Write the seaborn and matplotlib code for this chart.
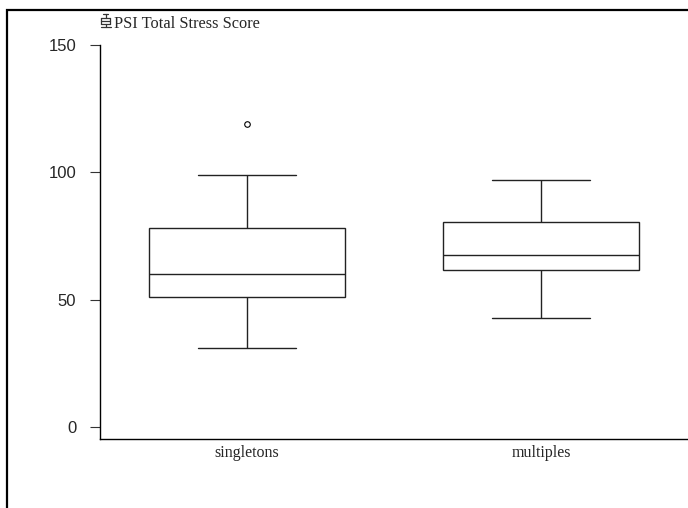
import numpy as np
import pandas as pd
import matplotlib
matplotlib.use("Agg")
import matplotlib.pyplot as plt
import seaborn as sns
from matplotlib.lines import Line2D
from matplotlib.patches import Rectangle

# Values
singletons = [31, 45, 51, 55, 60, 70, 78, 99, 119]
multiples = [43, 55, 61.5, 64, 67.5, 75, 80.5, 90, 97]
groups = ["singletons", "multiples"]
series_label = "PSI Total Stress Score"
y_ticks = [0, 50, 100, 150]

df = pd.DataFrame({
    "group": ["singletons"] * len(singletons) + ["multiples"] * len(multiples),
    "score": singletons + multiples,
})

sns.set_style("white")
plt.rcParams["font.family"] = ["Liberation Sans", "DejaVu Sans"]

W, H = 688, 508
fig = plt.figure(figsize=(W / 100, H / 100), dpi=100)
ax = fig.add_axes([100 / W, (H - 439) / H, (688 - 100) / W, (439 - 45) / H])

sns.boxplot(
    data=df, x="group", y="score", order=groups, ax=ax,
    width=0.667, color="white", linecolor="#222222", linewidth=1.0,
    flierprops=dict(marker="o", markersize=4, markerfacecolor="none",
                    markeredgecolor="black", markeredgewidth=0.8),
)

ax.set_xlim(-0.5, 1.5)
ax.set_ylim(-4.7, 150)
ax.set_yticks(y_ticks)
ax.set_xlabel("")
ax.set_ylabel("")
for side in ["top", "right"]:
    ax.spines[side].set_visible(False)
for side in ["left", "bottom"]:
    ax.spines[side].set_color("black")
    ax.spines[side].set_linewidth(1.0)
ax.tick_params(axis="y", left=True, direction="out", length=7, width=0.8,
               color="#333333", labelsize=12, pad=10)
ax.tick_params(axis="x", bottom=False, length=0, pad=4)
for lab in ax.get_xticklabels():
    lab.set_fontfamily("Liberation Serif")
    lab.set_fontsize(11.5)

# outer frame (left and top edges visible)
fig.add_artist(Rectangle((7 / W, -0.1), 2, 1 - 10 / H + 0.1, transform=fig.transFigure,
                         fill=False, edgecolor="black", linewidth=1.6))

# little box-plot legend icon
def px(x, y):
    return x / W, 1 - y / H

icon = [
    ((103, 108), (14, 14)),
    ((105.5, 105.5), (14, 17.5)),
    ((101, 110), (17.5, 17.5)),
    ((101, 110), (20.5, 20.5)),
    ((101, 110), (23.5, 23.5)),
    ((101, 101), (17.5, 23.5)),
    ((110, 110), (17.5, 23.5)),
    ((105.5, 105.5), (23.5, 27)),
    ((100.5, 110.5), (27, 27)),
]
for xs, ys in icon:
    (x0, y0), (x1, y1) = px(xs[0], ys[0]), px(xs[1], ys[1])
    fig.add_artist(Line2D([x0, x1], [y0, y1], transform=fig.transFigure,
                          color="#333333", linewidth=0.9))
fig.text(114 / W, 1 - 24 / H, series_label, fontfamily="Liberation Serif",
         fontsize=11.8, va="center", ha="left")

fig.savefig("out.png", dpi=100)
